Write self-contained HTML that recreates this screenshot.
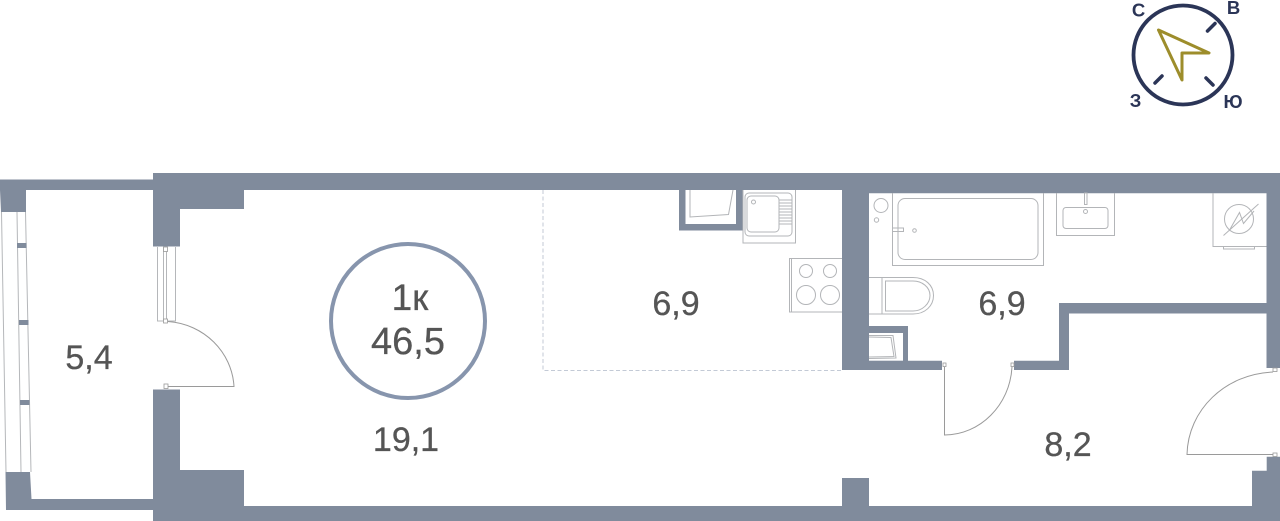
<!DOCTYPE html>
<html><head><meta charset="utf-8">
<style>html,body{margin:0;padding:0;background:#fff;width:1280px;height:521px;overflow:hidden}svg{display:block}</style>
</head><body>
<svg width="1280" height="521" viewBox="0 0 1280 521" xmlns="http://www.w3.org/2000/svg" font-family="'Liberation Sans',sans-serif">
<!-- walls -->
<g fill="#808b9c">
<path d="M0 179.5H153V173H1280V193.3H869V190H244V209H180V246.5H153V190H26V212H1L0 190Z"/>
<path d="M842 190H869V326H908V360.700H942V370H842Z"/>
<rect x="1266.500" y="190" width="13.500" height="178"/>
<path d="M1014 360.700H1059V303H1280V313.500H1069V370H1014Z"/>
<path d="M153 389.500H180V470H244V506H842V478H869V506H1252V470.700H1266.700V456.700H1280V521H153V510H6L5.500 472H30L31.500 499H153Z"/>
<path d="M679 190H685.500V224H736V190H743V230.500H679Z"/>
</g>
<rect x="869" y="333" width="34" height="27.700" fill="#fff"/>
<!-- balcony window -->
<g fill="none" stroke="#b5b7ba" stroke-width="1">
<path d="M1.500 212L6 472M17 212L21 472M25.500 212L31 472"/>
<path d="M157.500 247V321H166M175.500 247V321H167M163.500 247V321M166.500 247V321"/>
</g>
<g fill="#808b9c"><rect x="17" y="243" width="9.500" height="5"/><rect x="19" y="320" width="9.500" height="5"/><rect x="20" y="400" width="9.500" height="5"/></g>
<g fill="#fff" stroke="#999" stroke-width=".8">
<rect x="163.500" y="247" width="4" height="4.500"/><rect x="163.500" y="319" width="4" height="4"/><rect x="164" y="384" width="4" height="4.500"/>
<rect x="943" y="363" width="3" height="3.500"/><rect x="1011" y="363" width="3" height="3.500"/><rect x="1273" y="368" width="4" height="3.500"/><rect x="1273" y="453" width="4" height="3.500"/>
</g>
<!-- doors -->
<g fill="none" stroke="#9a9a9a" stroke-width="1">
<path d="M168 321.500C204 324 232 352 234 386.500H168"/>
<path d="M944.500 367V435C980 435 1010 405 1012 367"/>
<path d="M1273 372C1225 374 1188 410 1187 454.500H1273"/>
</g>
<!-- dashed zone -->
<path d="M543 190V370.500H842" fill="none" stroke="#c3cad6" stroke-width="1" stroke-dasharray="4 2.500"/>
<!-- kitchen -->
<g fill="none" stroke="#b3b5b8" stroke-width="1">
<path d="M690 190V217L728.500 214.500L733 190"/>
<path d="M743 190V243H795.500V190"/>
<rect x="745" y="193" width="47" height="43" rx="4"/>
<rect x="747" y="196" width="32" height="36" rx="4"/>
<circle cx="753.500" cy="202" r="2"/>
<path d="M779 200H792M779 203H792M779 206H792M779 209H792M779 212H792M779 215H792M779 218H792M779 221H792M779 224H792"/>
<path d="M842 258.500H789.500V312H842M791.500 258.500V312"/>
<circle cx="806" cy="271" r="6.500"/><circle cx="830" cy="271" r="6.500"/>
<circle cx="806" cy="295" r="9.500"/><circle cx="830" cy="295" r="9.500"/>
</g>
<!-- bathroom -->
<g fill="none" stroke="#b3b5b8" stroke-width="1">
<path d="M892.500 193V265.500H1043.500V193"/>
<rect x="898" y="198.500" width="140" height="61" rx="7"/>
<circle cx="881" cy="205.500" r="7"/><circle cx="876.500" cy="220" r="2.200"/><circle cx="914.500" cy="230.500" r="1.800"/>
<rect x="892.500" y="228" width="11" height="3.500"/>
<path d="M869 277.500H913C925 277.500 933.500 285 933.500 295.500C933.500 306 925 314 913 314H869M882 277.500V314"/>
<path d="M885.500 281H913C922 281 930 287 930 295.500C930 304 922 311 913 311H885.500Z"/>
<path d="M869 335.500L893 335.500L896 358L869 358.500"/>
<path d="M869 337L891 337.500L894 356.500L869 357"/>
<path d="M1056.500 193V235.500H1114.500V193"/>
<rect x="1063" y="207.500" width="45" height="21" rx="3"/>
<rect x="1084.500" y="193" width="2.500" height="11.500"/><circle cx="1085.500" cy="211.500" r="2"/>
<path d="M1213 193V246.500H1266.500"/>
<path d="M1223.500 246.500V249H1254.500V246.500"/>
<circle cx="1239" cy="219" r="14.500"/>
<path d="M1223.500 235.500L1258.500 204M1229 231L1239.500 212.500L1243.500 223.500L1254 211"/>
</g>
<!-- labels -->
<g fill="#555" font-size="34" text-anchor="middle" stroke="#555" stroke-width=".3">
<text x="89" y="369">5,4</text>
<text x="676" y="315">6,9</text>
<text x="1002" y="315">6,9</text>
<text x="1068" y="456">8,2</text>
<text x="406" y="451">19,1</text>
<text x="410" y="310" font-size="37">1к</text>
<text x="408" y="354" font-size="38">46,5</text>
</g>
<circle cx="408" cy="321" r="77" fill="none" stroke="#8795ad" stroke-width="4"/>
<!-- compass -->
<circle cx="1183" cy="55" r="49.500" fill="none" stroke="#2b3557" stroke-width="3.800"/>
<g stroke="#2b3557" stroke-width="3.500" stroke-linecap="round">
<path d="M1207.500 31L1215 23.500M1155 83L1162 76M1206 78L1213 85"/>
</g>
<path d="M1158.500 30L1209 53H1182V80Z" fill="none" stroke="#9d8d2b" stroke-width="3" stroke-linejoin="round"/>
<g fill="#2b3557" font-size="18.500" font-weight="bold" text-anchor="middle">
<text x="1138.500" y="16.500">С</text>
<text x="1233.500" y="14">В</text>
<text x="1135.500" y="107">З</text>
<text x="1233" y="108">Ю</text>
</g>
</svg>
</body></html>
